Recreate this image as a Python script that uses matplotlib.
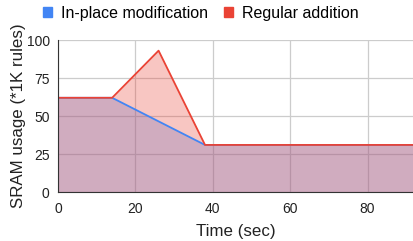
import numpy as np
import matplotlib.pyplot as plt
from matplotlib.patches import Patch

plt.rcParams['font.family'] = ['Liberation Sans', 'DejaVu Sans']

# values
time_inplace = [0, 14, 38, 92]
sram_inplace = [62, 62, 31, 31]
time_regular = [0, 14, 26, 38, 92]
sram_regular = [62, 62, 93, 31, 31]

blue = "#4285f4"
red = "#ea4335"

fig = plt.figure(figsize=(4.14, 2.41), dpi=100)
ax = fig.add_axes([0.140, 0.203, 0.860, 0.631])

ax.fill_between(time_inplace, sram_inplace, 0, color=blue, alpha=0.3, lw=0, zorder=2)
ax.fill_between(time_regular, sram_regular, 0, color=red, alpha=0.3, lw=0, zorder=3)
ax.plot(time_inplace, sram_inplace, color=blue, lw=1.3, zorder=4)
ax.plot(time_regular, sram_regular, color=red, lw=1.3, zorder=5)

ax.set_xlim(0, 92)
ax.set_ylim(0, 100)
ax.set_xticks([0, 20, 40, 60, 80])
ax.set_yticks([0, 25, 50, 75, 100])
ax.set_axisbelow(True)
ax.grid(True, color="#cccccc", lw=0.9, zorder=0)
for s in ["top", "right"]:
    ax.spines[s].set_visible(False)
ax.spines["left"].set_color("#333333")
ax.spines["bottom"].set_color("#333333")
ax.spines["left"].set_zorder(6)
ax.spines["bottom"].set_zorder(6)
ax.tick_params(length=0, labelsize=10, colors="#222222")
ax.tick_params(axis="x", pad=7)
ax.tick_params(axis="y", pad=6)

ax.set_xlabel("Time (sec)", fontsize=12.2, color="#222222", labelpad=6)
ax.set_ylabel("SRAM usage (*1K rules)", fontsize=12.2, color="#222222", labelpad=0.5)

handles = [Patch(color=blue, label="In-place modification"),
           Patch(color=red, label="Regular addition")]
fig.legend(handles=handles, loc="upper center", bbox_to_anchor=(0.485, 1.035), ncol=2,
           frameon=False, fontsize=11.5, handlelength=0.55, handleheight=0.55,
           handletextpad=0.55, columnspacing=1.0)

fig.savefig("out.png", dpi=100)
